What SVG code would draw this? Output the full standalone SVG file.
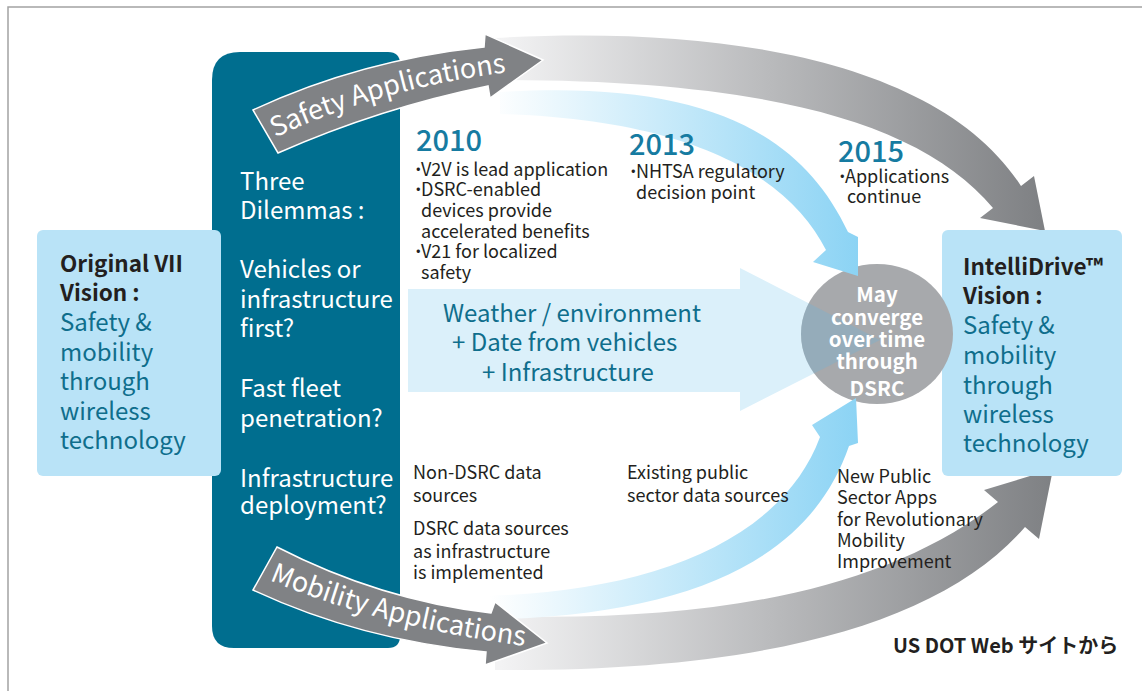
<svg xmlns="http://www.w3.org/2000/svg" width="1142" height="691" viewBox="0 0 1142 691">
  <defs>
    <style>
      text { font-family: "Noto Sans CJK JP", "Noto Sans", sans-serif; }
      .panel { font-size: 24px; fill: #ffffff; }
      .box-title { font-size: 22.5px; font-weight: bold; fill: #231f20; }
      .box-body { font-size: 24px; fill: #0f6e8c; }
      .year { font-size: 29px; font-weight: 500; fill: #167ba1; }
      .note { font-size: 18px; fill: #231f20; }
      .flow { font-size: 24px; fill: #0f6e8c; }
      .conv { font-size: 20.5px; font-weight: bold; fill: #ffffff; text-anchor: middle; }
      .credit { font-size: 20px; font-weight: bold; fill: #231f20; }
      .arrow-label { font-size: 27px; fill: #ffffff; }
      .dark-arrow { fill: #808285; stroke: #ffffff; stroke-width: 1.5; stroke-linejoin: miter; }
      .vision-box { fill: #b9e3f7; }
      .bullet { font-weight: bold; }
    </style>
    <linearGradient id="grayTop" gradientUnits="userSpaceOnUse" x1="500" y1="0" x2="1040" y2="0">
      <stop offset="0" stop-color="#f3f3f4"/>
      <stop offset="1" stop-color="#7f8184"/>
    </linearGradient>
    <linearGradient id="grayBottom" gradientUnits="userSpaceOnUse" x1="500" y1="0" x2="1050" y2="0">
      <stop offset="0" stop-color="#f3f3f4"/>
      <stop offset="1" stop-color="#7f8184"/>
    </linearGradient>
    <linearGradient id="blueFade" gradientUnits="userSpaceOnUse" x1="490" y1="0" x2="860" y2="0">
      <stop offset="0" stop-color="#ffffff"/>
      <stop offset="1" stop-color="#8bd3f4"/>
    </linearGradient>
    <clipPath id="circleClip">
      <ellipse cx="877" cy="334" rx="76" ry="70"/>
    </clipPath>
    <path id="safetyPath" d="M 268,141 Q 380,86 525,70"/>
    <path id="mobilityPath" d="M 262,577 Q 380,628 540,648"/>
  </defs>

  <!-- outer frame -->
  <rect x="8" y="7" width="1145" height="700" fill="#ffffff" stroke="#a3a3a3" stroke-width="1.5"/>

  <g id="connectors">
    <!-- long gray sweeps to the IntelliDrive vision -->
    <path d="M 495,38 C 720,25 940,60 1021,186 L 1034,176 L 1045,231 L 980,218 L 993,208 C 920,120 760,80 500,80 Z" fill="url(#grayTop)"/>
    <path d="M 495,616 C 700,622 880,595 998,502 L 984,490 L 1053,469 L 1039,539 L 1025,527 C 940,625 760,672 495,670 Z" fill="url(#grayBottom)"/>
  </g>

  <!-- three dilemmas panel -->
  <g id="dilemmas">
    <path d="M 240,52 L 388,52 Q 400,52 400,64 L 400,636 Q 400,648 388,648 L 234,648 Q 212,648 212,626 L 212,80 Q 212,52 240,52 Z" fill="#006e8f"/>
    <text class="panel" x="240" y="190">Three</text>
    <text class="panel" x="240" y="219">Dilemmas :</text>
    <text class="panel" x="240" y="278">Vehicles or</text>
    <text class="panel" x="240" y="308">infrastructure</text>
    <text class="panel" x="240" y="337">first?</text>
    <text class="panel" x="240" y="397">Fast fleet</text>
    <text class="panel" x="240" y="427">penetration?</text>
    <text class="panel" x="240" y="487">Infrastructure</text>
    <text class="panel" x="240" y="514">deployment?</text>
  </g>

  <!-- original VII vision -->
  <g id="original-vision">
    <rect class="vision-box" x="37" y="230" width="184" height="246" rx="6"/>
    <text class="box-title" x="60" y="272">Original VII</text>
    <text class="box-title" x="60" y="301">Vision :</text>
    <text class="box-body" x="60" y="331">Safety &amp;</text>
    <text class="box-body" x="60" y="361">mobility</text>
    <text class="box-body" x="60" y="390">through</text>
    <text class="box-body" x="60" y="420">wireless</text>
    <text class="box-body" x="60" y="449">technology</text>
  </g>

  <!-- IntelliDrive vision -->
  <g id="intellidrive-vision">
    <rect class="vision-box" x="942" y="230" width="180" height="246" rx="6"/>
    <text class="box-title" x="963" y="275">IntelliDrive™</text>
    <text class="box-title" x="963" y="304">Vision :</text>
    <text class="box-body" x="963" y="334">Safety &amp;</text>
    <text class="box-body" x="963" y="364">mobility</text>
    <text class="box-body" x="963" y="394">through</text>
    <text class="box-body" x="963" y="423">wireless</text>
    <text class="box-body" x="963" y="452">technology</text>
  </g>

  <!-- broad data flow into the convergence point -->
  <g id="data-flow">
    <polygon points="408,289 740,289 740,268 880,340 740,411 740,392 408,392" fill="#dbf0fa"/>
    <text class="flow" x="443" y="322">Weather / environment</text>
    <text class="flow" x="452" y="351">+ Date from vehicles</text>
    <text class="flow" x="482" y="381">+ Infrastructure</text>
  </g>

  <!-- convergence point -->
  <g id="converge">
    <ellipse cx="877" cy="334" rx="76" ry="70" fill="#a7a9ac"/>
    <polygon points="408,289 740,289 740,268 880,340 740,411 740,392 408,392" fill="#6fb4d8" fill-opacity="0.33" clip-path="url(#circleClip)"/>
    <text class="conv" x="877" y="302">May</text>
    <text class="conv" x="877" y="325">converge</text>
    <text class="conv" x="877" y="347">over time</text>
    <text class="conv" x="877" y="369">through</text>
    <text class="conv" x="877" y="396">DSRC</text>
  </g>

  <g id="feeds">
    <!-- safety track feeding the convergence point -->
    <path d="M 500,92 C 700,80 800,130 848,232 L 858,237 L 858,276 L 813,262 L 826,250 C 790,180 700,120 500,114 Z" fill="url(#blueFade)"/>
    <!-- mobility track feeding the convergence point -->
    <path d="M 470,596 C 640,595 780,545 820,437 L 812,425 L 856,398 L 858,443 L 849,446 C 810,560 690,618 470,620 Z" fill="url(#blueFade)"/>
  </g>

  <g id="application-arrows">
    <path class="dark-arrow" d="M 253,110 Q 360,60 484,47 L 485,34 L 543,60 L 490,98 L 488,86 Q 380,108 278,153 Z"/>
    <text class="arrow-label"><textPath href="#safetyPath" startOffset="8">Safety Applications</textPath></text>
    <path class="dark-arrow" d="M 277,547 Q 380,600 491,613 L 495,602 L 547,643 L 485,665 L 486,652 Q 360,640 253,590 Z"/>
    <text class="arrow-label"><textPath href="#mobilityPath" startOffset="8">Mobility Applications</textPath></text>
  </g>

  <g id="year-2010">
    <text class="year" x="416" y="151">2010</text>
    <text class="note" y="176"><tspan class="bullet" x="413">·</tspan><tspan x="421">V2V is lead application</tspan></text>
    <text class="note" y="196"><tspan class="bullet" x="413">·</tspan><tspan x="421">DSRC-enabled</tspan></text>
    <text class="note" x="421" y="217">devices provide</text>
    <text class="note" x="421" y="238">accelerated benefits</text>
    <text class="note" y="258"><tspan class="bullet" x="413">·</tspan><tspan x="421">V21 for localized</tspan></text>
    <text class="note" x="421" y="279">safety</text>
  </g>

  <g id="year-2013">
    <text class="year" x="629" y="155">2013</text>
    <text class="note" y="178"><tspan class="bullet" x="628">·</tspan><tspan x="636">NHTSA regulatory</tspan></text>
    <text class="note" x="636" y="199">decision point</text>
  </g>

  <g id="year-2015">
    <text class="year" x="838" y="162">2015</text>
    <text class="note" y="183"><tspan class="bullet" x="837">·</tspan><tspan x="845">Applications</tspan></text>
    <text class="note" x="847" y="203">continue</text>
  </g>

  <g id="data-sources">
    <text class="note" x="413" y="479">Non-DSRC data</text>
    <text class="note" x="413" y="502">sources</text>
    <text class="note" x="413" y="535">DSRC data sources</text>
    <text class="note" x="413" y="558">as infrastructure</text>
    <text class="note" x="413" y="579">is implemented</text>
    <text class="note" x="627" y="479">Existing public</text>
    <text class="note" x="627" y="502">sector data sources</text>
  </g>

  <g id="public-apps">
    <text class="note" x="837" y="483">New Public</text>
    <text class="note" x="837" y="504">Sector Apps</text>
    <text class="note" x="837" y="526">for Revolutionary</text>
    <text class="note" x="837" y="547">Mobility</text>
    <text class="note" x="837" y="568">Improvement</text>
  </g>

  <text class="credit" x="893" y="653">US DOT Web サイトから</text>
</svg>
